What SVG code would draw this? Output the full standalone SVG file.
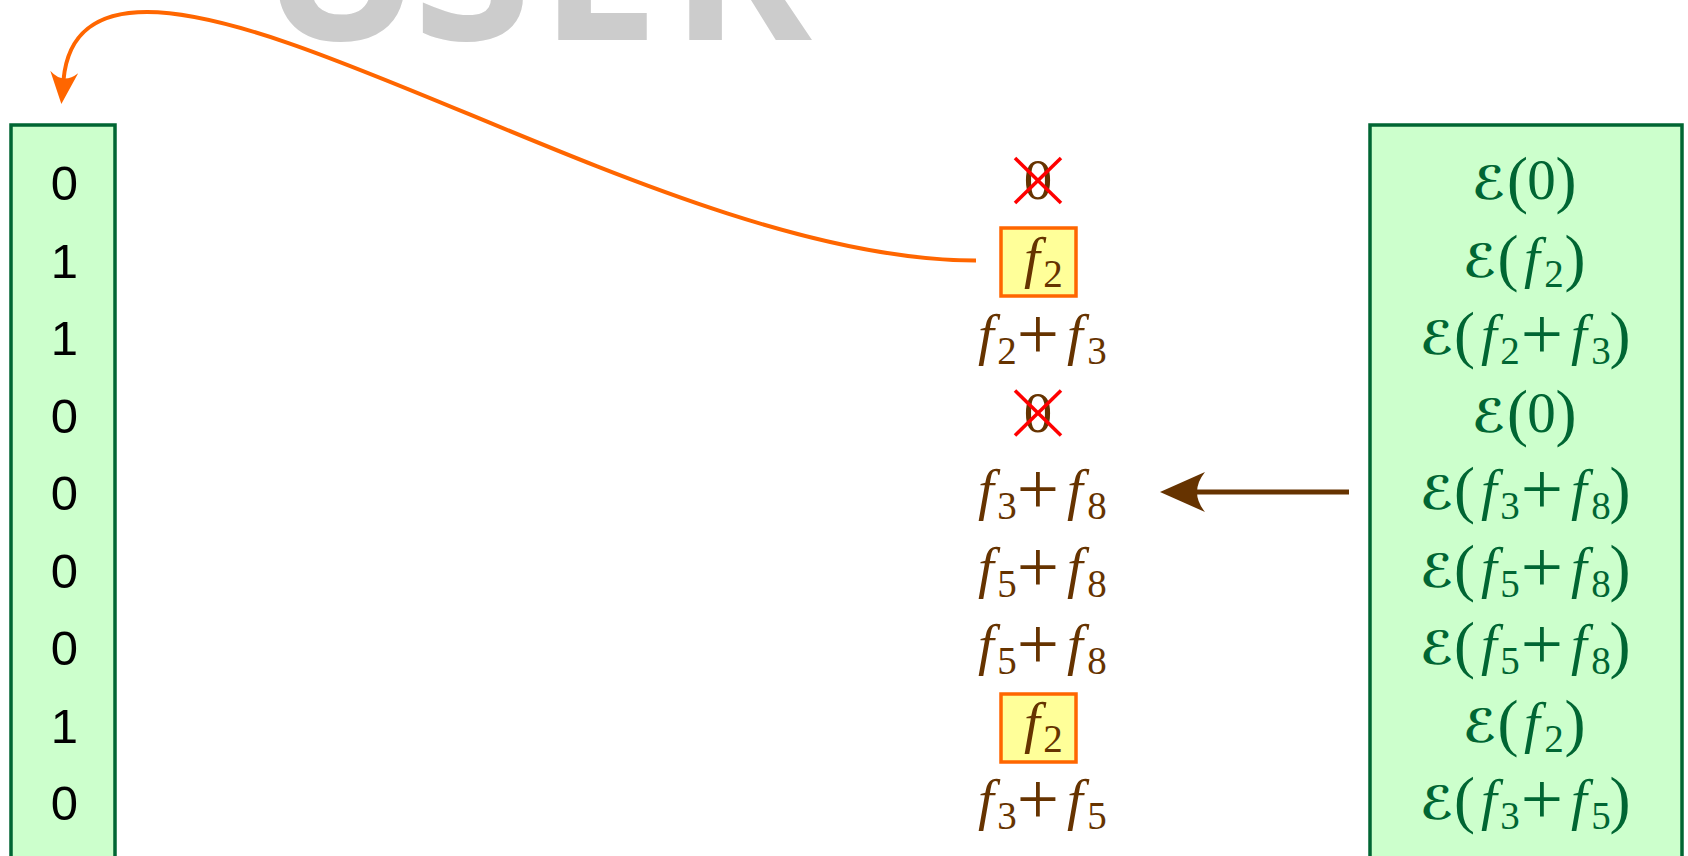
<svg xmlns="http://www.w3.org/2000/svg" width="1688" height="856" viewBox="0 0 1688 856">
<style>
.box{fill:#ccffcc;stroke:#006633;stroke-width:3.5}
.hl{fill:#ffff99;stroke:#ff6600;stroke-width:3.5}
.bit{font-family:"Liberation Sans","DejaVu Sans",sans-serif;font-size:49px;fill:#000;text-anchor:middle}
.m{font-family:"Liberation Serif","DejaVu Serif",serif;text-anchor:middle}
.brown{fill:#663300}
.green{fill:#006633}
.it{font-style:italic;font-size:57px}
.sub{font-size:39px}
.pl{font-size:75px}
.par{font-size:63px}
.num{font-size:57px}
.cal{font-family:"DejaVu Serif","DejaVu Sans",serif;font-style:italic;font-weight:bold;font-size:46px}
.cross{stroke:#ff0000;stroke-width:3.5;stroke-linecap:butt}
.wm{font-family:"Open Sans","Liberation Sans",sans-serif;font-weight:700;font-size:215px;fill:#cccccc}
</style>
<defs>
<marker id="ahOrange" viewBox="0 -16 34 32" refX="8" refY="0" markerWidth="34" markerHeight="32" markerUnits="userSpaceOnUse" orient="auto">
<path d="M0,-14 Q13,0 0,14 L32,0 Z" fill="#ff6600"/>
</marker>
<marker id="ahBrown" viewBox="0 -21 46 42" refX="10" refY="0" markerWidth="46" markerHeight="42" markerUnits="userSpaceOnUse" orient="auto">
<path d="M0,-20 Q16,0 0,20 L45,0 Z" fill="#663300"/>
</marker>
</defs>

<g id="watermark">
<text class="wm" x="260 413 539 670" y="40">USER</text>
</g>

<g id="node-bits">
<rect class="box" x="11" y="125" width="104" height="800"/>
<text class="bit" x="64.5" y="200">0</text>
<text class="bit" x="64.5" y="277.5">1</text>
<text class="bit" x="64.5" y="355">1</text>
<text class="bit" x="64.5" y="432.5">0</text>
<text class="bit" x="64.5" y="510">0</text>
<text class="bit" x="64.5" y="587.5">0</text>
<text class="bit" x="64.5" y="665">0</text>
<text class="bit" x="64.5" y="742.5">1</text>
<text class="bit" x="64.5" y="820">0</text>
</g>

<g id="node-encrypted">
<rect class="box" x="1370" y="125" width="312" height="800"/>
<text class="m green"><tspan class="cal" x="1489" y="199">ℰ</tspan><tspan class="par" x="1517.5" y="201">(</tspan><tspan class="num" x="1541.5" y="199">0</tspan><tspan class="par" x="1566" y="201">)</tspan></text>
<text class="m green"><tspan class="cal" x="1480" y="276.5">ℰ</tspan><tspan class="par" x="1508" y="278.5">(</tspan><tspan class="it" x="1532" y="276.5">f</tspan><tspan class="sub" x="1554" y="286.5">2</tspan><tspan class="par" x="1575" y="278.5">)</tspan></text>
<text class="m green"><tspan class="cal" x="1437" y="354">ℰ</tspan><tspan class="par" x="1464.5" y="356">(</tspan><tspan class="it" x="1489" y="354">f</tspan><tspan class="sub" x="1510" y="364">2</tspan><tspan class="pl" x="1542" y="359">+</tspan><tspan class="it" x="1579" y="354">f</tspan><tspan class="sub" x="1601" y="364">3</tspan><tspan class="par" x="1620" y="356">)</tspan></text>
<text class="m green"><tspan class="cal" x="1489" y="431.5">ℰ</tspan><tspan class="par" x="1517.5" y="433.5">(</tspan><tspan class="num" x="1541.5" y="431.5">0</tspan><tspan class="par" x="1566" y="433.5">)</tspan></text>
<text class="m green"><tspan class="cal" x="1437" y="509">ℰ</tspan><tspan class="par" x="1464.5" y="511">(</tspan><tspan class="it" x="1489" y="509">f</tspan><tspan class="sub" x="1510" y="519">3</tspan><tspan class="pl" x="1542" y="514">+</tspan><tspan class="it" x="1579" y="509">f</tspan><tspan class="sub" x="1601" y="519">8</tspan><tspan class="par" x="1620" y="511">)</tspan></text>
<text class="m green"><tspan class="cal" x="1437" y="586.5">ℰ</tspan><tspan class="par" x="1464.5" y="588.5">(</tspan><tspan class="it" x="1489" y="586.5">f</tspan><tspan class="sub" x="1510" y="596.5">5</tspan><tspan class="pl" x="1542" y="591.5">+</tspan><tspan class="it" x="1579" y="586.5">f</tspan><tspan class="sub" x="1601" y="596.5">8</tspan><tspan class="par" x="1620" y="588.5">)</tspan></text>
<text class="m green"><tspan class="cal" x="1437" y="664">ℰ</tspan><tspan class="par" x="1464.5" y="666">(</tspan><tspan class="it" x="1489" y="664">f</tspan><tspan class="sub" x="1510" y="674">5</tspan><tspan class="pl" x="1542" y="669">+</tspan><tspan class="it" x="1579" y="664">f</tspan><tspan class="sub" x="1601" y="674">8</tspan><tspan class="par" x="1620" y="666">)</tspan></text>
<text class="m green"><tspan class="cal" x="1480" y="741.5">ℰ</tspan><tspan class="par" x="1508" y="743.5">(</tspan><tspan class="it" x="1532" y="741.5">f</tspan><tspan class="sub" x="1554" y="751.5">2</tspan><tspan class="par" x="1575" y="743.5">)</tspan></text>
<text class="m green"><tspan class="cal" x="1437" y="819">ℰ</tspan><tspan class="par" x="1464.5" y="821">(</tspan><tspan class="it" x="1489" y="819">f</tspan><tspan class="sub" x="1510" y="829">3</tspan><tspan class="pl" x="1542" y="824">+</tspan><tspan class="it" x="1579" y="819">f</tspan><tspan class="sub" x="1601" y="829">5</tspan><tspan class="par" x="1620" y="821">)</tspan></text>
</g>

<g id="node-row1">
<text class="m brown num" x="1038" y="199">0</text>
<line class="cross" x1="1015" y1="158" x2="1061" y2="203"/>
<line class="cross" x1="1061" y1="158" x2="1015" y2="203"/>
</g>
<g id="node-row2">
<rect class="hl" x="1001" y="228" width="75" height="68"/>
<text class="m brown"><tspan class="it" x="1032" y="276.5">f</tspan><tspan class="sub" x="1053" y="286.5">2</tspan></text>
</g>
<g id="node-row3">
<text class="m brown"><tspan class="it" x="986" y="354">f</tspan><tspan class="sub" x="1007" y="364">2</tspan><tspan class="pl" x="1038" y="359">+</tspan><tspan class="it" x="1075" y="354">f</tspan><tspan class="sub" x="1097" y="364">3</tspan></text>
</g>
<g id="node-row4">
<text class="m brown num" x="1038" y="431.5">0</text>
<line class="cross" x1="1015" y1="390.5" x2="1061" y2="435.5"/>
<line class="cross" x1="1061" y1="390.5" x2="1015" y2="435.5"/>
</g>
<g id="node-row5">
<text class="m brown"><tspan class="it" x="986" y="509">f</tspan><tspan class="sub" x="1007" y="519">3</tspan><tspan class="pl" x="1038" y="514">+</tspan><tspan class="it" x="1075" y="509">f</tspan><tspan class="sub" x="1097" y="519">8</tspan></text>
</g>
<g id="node-row6">
<text class="m brown"><tspan class="it" x="986" y="586.5">f</tspan><tspan class="sub" x="1007" y="596.5">5</tspan><tspan class="pl" x="1038" y="591.5">+</tspan><tspan class="it" x="1075" y="586.5">f</tspan><tspan class="sub" x="1097" y="596.5">8</tspan></text>
</g>
<g id="node-row7">
<text class="m brown"><tspan class="it" x="986" y="664">f</tspan><tspan class="sub" x="1007" y="674">5</tspan><tspan class="pl" x="1038" y="669">+</tspan><tspan class="it" x="1075" y="664">f</tspan><tspan class="sub" x="1097" y="674">8</tspan></text>
</g>
<g id="node-row8">
<rect class="hl" x="1001" y="694" width="75" height="68"/>
<text class="m brown"><tspan class="it" x="1032" y="741.5">f</tspan><tspan class="sub" x="1053" y="751.5">2</tspan></text>
</g>
<g id="node-row9">
<text class="m brown"><tspan class="it" x="986" y="819">f</tspan><tspan class="sub" x="1007" y="829">3</tspan><tspan class="pl" x="1038" y="824">+</tspan><tspan class="it" x="1075" y="819">f</tspan><tspan class="sub" x="1097" y="829">5</tspan></text>
</g>

<g id="connectors">
<path d="M976,260.5 C700,261 320,12 147,12 C100,12 68,30 63.5,80" fill="none" stroke="#ff6600" stroke-width="4" marker-end="url(#ahOrange)"/>
<line x1="1349" y1="492" x2="1195" y2="492" stroke="#663300" stroke-width="5" marker-end="url(#ahBrown)"/>
</g>
</svg>
